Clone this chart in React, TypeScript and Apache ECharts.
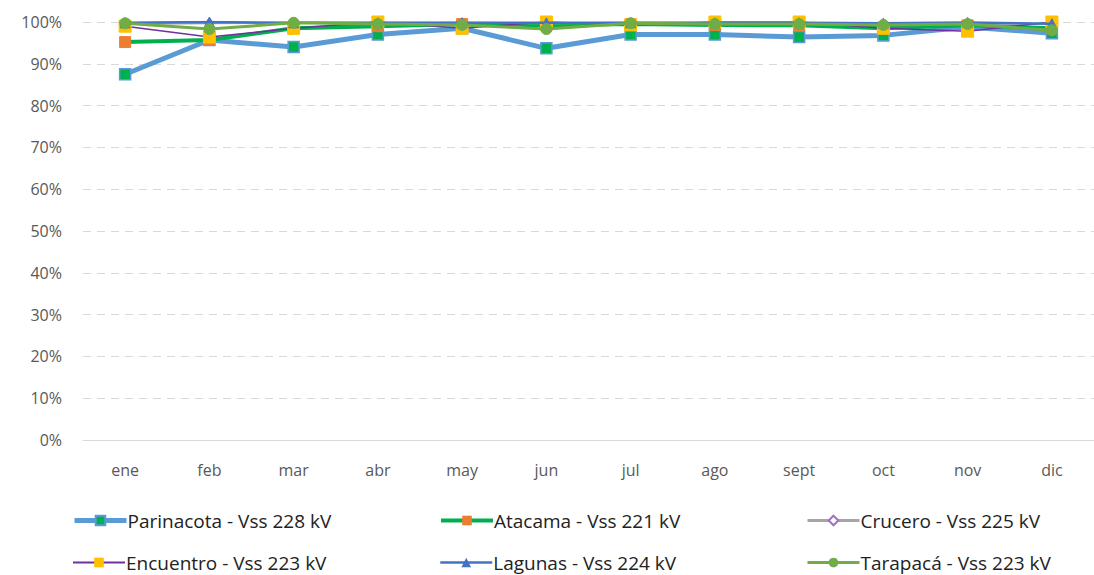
import React, { useEffect, useRef } from "react";
import * as echarts from "echarts";

const months = ["ene", "feb", "mar", "abr", "may", "jun", "jul", "ago", "sept", "oct", "nov", "dic"];
const parinacota = [0.875, 0.957, 0.940, 0.970, 0.985, 0.937, 0.970, 0.970, 0.964, 0.968, 0.988, 0.973];
const atacama = [0.952, 0.957, 0.985, 0.990, 0.995, 0.992, 0.995, 0.993, 0.992, 0.985, 0.992, 0.985];
const crucero = [0.995, 0.997, 0.998, 0.998, 0.998, 0.997, 0.998, 0.998, 0.998, 0.996, 0.997, 0.995];
const encuentro = [0.990, 0.964, 0.985, 1.0, 0.985, 1.0, 0.993, 1.0, 1.0, 0.985, 0.978, 1.0];
const lagunas = [0.998, 1.0, 0.998, 0.998, 0.998, 0.998, 0.998, 0.998, 0.998, 0.997, 0.999, 0.996];
const tarapaca = [0.997, 0.983, 0.998, 0.995, 0.993, 0.983, 0.997, 0.995, 0.995, 0.993, 0.995, 0.980];
const yTicks = [0, 0.1, 0.2, 0.3, 0.4, 0.5, 0.6, 0.7, 0.8, 0.9, 1.0];

const names = [
  "Parinacota - Vss 228 kV",
  "Atacama - Vss 221 kV",
  "Crucero - Vss 225 kV",
  "Encuentro - Vss 223 kV",
  "Lagunas - Vss 224 kV",
  "Tarapacá - Vss 223 kV",
];

export default function App() {
  const ref = useRef<HTMLDivElement>(null);
  useEffect(() => {
    const chart = echarts.init(ref.current!, null, { renderer: "svg" });
    const font = "'Open Sans', 'Noto Sans', sans-serif";
    const legendPos = [
      [72, 511],
      [439, 511],
      [806, 511],
      [72, 553],
      [439, 553],
      [806, 553],
    ];
    const legendLineWidths = [5, 4, 3, 2, 2.5, 3];
    const legends = names.map((n, i) => ({
      data: [n],
      left: legendPos[i][0],
      top: legendPos[i][1],
      itemWidth: 52,
      itemHeight: 12,
      padding: 0,
      lineStyle: { width: legendLineWidths[i] },
      textStyle: { fontSize: 19, color: "#222", fontFamily: font, padding: [0, 0, 0, -4] },
    }));
    chart.setOption({
      animation: false,
      grid: { left: 83, right: 0, top: 22, bottom: 135 },
      legend: legends,
      xAxis: {
        type: "category",
        data: months,
        axisTick: { show: false },
        axisLine: { lineStyle: { color: "#D9D9D9" } },
        axisLabel: { fontSize: 16, color: "#595959", fontFamily: font, margin: 22 },
      },
      yAxis: {
        type: "value",
        min: 0,
        max: 1,
        interval: 0.1,
        axisLabel: {
          fontSize: 16,
          color: "#595959",
          fontFamily: font,
          margin: 21,
          formatter: (v: number) => {
            const t = yTicks.find((x) => Math.abs(x - v) < 1e-6);
            return Math.round((t ?? v) * 100) + "%";
          },
        },
        splitLine: { lineStyle: { color: "#D9D9D9", type: [8, 6], width: 1 } },
      },
      series: [
        {
          name: names[0], type: "line", data: parinacota, symbol: "rect", symbolSize: 11,
          lineStyle: { color: "#5B9BD5", width: 5 },
          itemStyle: { color: "#00B050", borderColor: "#5B9BD5", borderWidth: 1.5 },
          z: 2,
        },
        {
          name: names[1], type: "line", data: atacama, symbol: "rect", symbolSize: 11,
          lineStyle: { color: "#00B050", width: 4 },
          itemStyle: { color: "#ED7D31", borderColor: "#ED7D31" },
          z: 3,
        },
        {
          name: names[2], type: "line", data: crucero, symbol: "diamond", symbolSize: 9,
          lineStyle: { color: "#A5A5A5", width: 2 },
          itemStyle: { color: "#fff", borderColor: "#9E72C8", borderWidth: 1.5 },
          z: 4,
        },
        {
          name: names[3], type: "line", data: encuentro, symbol: "rect", symbolSize: 12,
          lineStyle: { color: "#7030A0", width: 1.5 },
          itemStyle: { color: "#FFC000", borderColor: "#FFC000" },
          z: 5,
        },
        {
          name: names[4], type: "line", data: lagunas, symbol: "triangle", symbolSize: 10,
          lineStyle: { color: "#4472C4", width: 2.5 },
          itemStyle: { color: "#4472C4", borderColor: "#4472C4" },
          z: 6,
        },
        {
          name: names[5], type: "line", data: tarapaca, symbol: "circle", symbolSize: 11,
          lineStyle: { color: "#70AD47", width: 3 },
          itemStyle: { color: "#70AD47", borderColor: "#70AD47" },
          z: 7,
        },
      ],
    });
    return () => chart.dispose();
  }, []);
  return <div ref={ref} style={{ width: 1094, height: 575, position: "absolute", left: 0, top: 0 }} />;
}
